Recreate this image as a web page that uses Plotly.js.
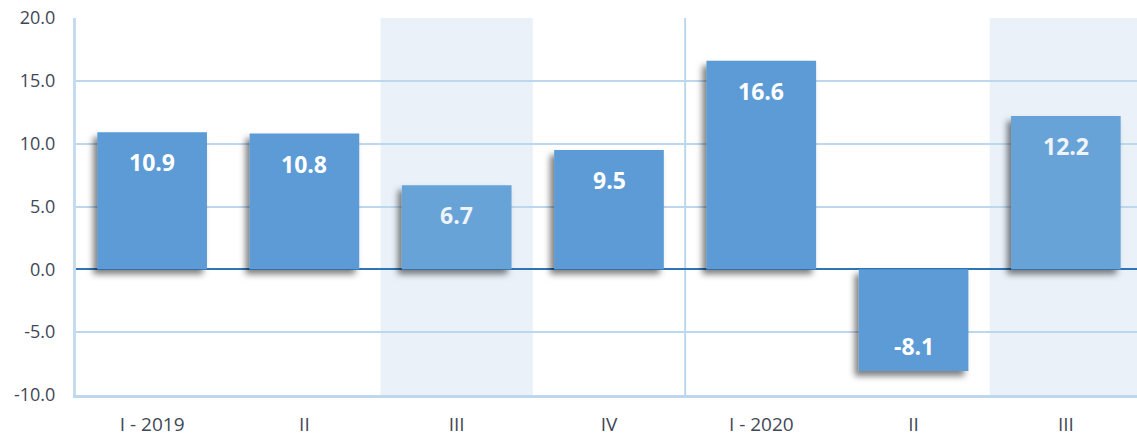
<!DOCTYPE html>
<html>
<head>
<meta charset="utf-8">
<script src="https://cdn.plot.ly/plotly-3.0.1.min.js"></script>
<style>
html,body{margin:0;padding:0;background:#fff;overflow:hidden;}
#chart{width:1137px;height:438px;overflow:hidden;}
</style>
</head>
<body>
<div id="chart"></div>
<script>
// ---- data ----
const categories = ["I - 2019", "II", "III", "IV", "I - 2020", "II ", "III "];
const values = [10.9, 10.8, 6.7, 9.5, 16.6, -8.1, 12.2];
const highlighted = [2, 6];          // shaded columns (category indices)
const yTickVals = [-10, -5, 0, 5, 10, 15, 20];
const yTickText = ["-10.0", "-5.0", "0.0", "5.0", "10.0", "15.0", "20.0"];
const yearDivider = 3.5;             // between IV and I - 2020

const baseColor = "#5b9bd5";
const lightColor = "#67a3d7";
const colors = values.map((v, i) => highlighted.includes(i) ? lightColor : baseColor);
const textColors = values.map((v, i) => highlighted.includes(i) ? "#eef4fa" : "#ffffff");

const shapes = highlighted.map(i => ({
  type: "rect", xref: "x", yref: "paper", layer: "below",
  x0: i - 0.5, x1: i + 0.5, y0: 0, y1: 1,
  fillcolor: "#eaf1f9", line: {width: 0}
}));
shapes.push({
  type: "line", xref: "x", yref: "paper", layer: "below",
  x0: yearDivider, x1: yearDivider, y0: 0, y1: 1,
  line: {color: "#bdd7ee", width: 2}
});

const annotations = values.map((v, i) => ({
  x: i, y: v, xref: "x", yref: "y",
  text: "<b>" + v.toFixed(1) + "</b>",
  showarrow: false, yanchor: "middle",
  yshift: v >= 0 ? -30 : 25,
  font: {family: "Open Sans, Noto Sans, sans-serif", size: 23, color: textColors[i]}
}));

const trace = {
  type: "bar",
  x: categories.map((c, i) => i),
  y: values,
  width: 0.72,
  marker: {color: colors, line: {width: 0}},
  hoverinfo: "none"
};

const layout = {
  width: 1142, height: 438,
  margin: {l: 76, r: 0, t: 18, b: 43},
  paper_bgcolor: "#ffffff",
  plot_bgcolor: "rgba(0,0,0,0)",
  showlegend: false,
  font: {family: "Open Sans, Noto Sans, sans-serif", color: "#3f4756", size: 18},
  xaxis: {
    range: [-0.5, 6.5],
    tickvals: categories.map((c, i) => i),
    ticktext: categories.map(c => c.trim()),
    showgrid: false, zeroline: false,
    showline: true, linecolor: "#bdd7ee", linewidth: 3,
    ticks: "", ticklabelstandoff: 10,
    tickfont: {size: 19, color: "#3f4756"},
    fixedrange: true, automargin: false
  },
  yaxis: {
    range: [-10, 20],
    tickvals: yTickVals, ticktext: yTickText,
    showgrid: true, gridcolor: "#bdd7ee", gridwidth: 2,
    zeroline: true, zerolinecolor: "#2e75b6", zerolinewidth: 2,
    showline: true, linecolor: "#c5dcf0", linewidth: 3, mirror: false,
    ticks: "", ticklabelstandoff: 14,
    tickfont: {size: 18, color: "#3f4756"},
    fixedrange: true, automargin: false
  },
  shapes: shapes,
  annotations: annotations
};

Plotly.newPlot("chart", [trace], layout, {displayModeBar: false, staticPlot: true}).then(gd => {
  const svgNS = "http://www.w3.org/2000/svg";
  const svg = gd.querySelector(".main-svg");
  let defs = svg.querySelector("defs");
  if (!defs) { defs = document.createElementNS(svgNS, "defs"); svg.insertBefore(defs, svg.firstChild); }
  const f = document.createElementNS(svgNS, "filter");
  f.setAttribute("id", "barShadow");
  f.setAttribute("x", "-20%"); f.setAttribute("y", "-20%");
  f.setAttribute("width", "140%"); f.setAttribute("height", "140%");
  const ds = document.createElementNS(svgNS, "feDropShadow");
  ds.setAttribute("dx", "-4"); ds.setAttribute("dy", "5");
  ds.setAttribute("stdDeviation", "3");
  ds.setAttribute("flood-color", "#000");
  ds.setAttribute("flood-opacity", "0.5");
  f.appendChild(ds);
  defs.appendChild(f);
  gd.querySelectorAll(".trace.bars .point path").forEach(p => p.setAttribute("filter", "url(#barShadow)"));
});
</script>
</body>
</html>
